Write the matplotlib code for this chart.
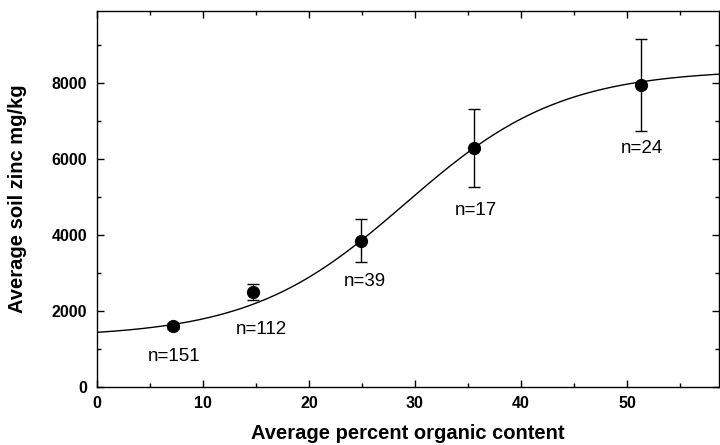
import numpy as np
import matplotlib
matplotlib.use("Agg")
import matplotlib.pyplot as plt
from matplotlib.ticker import MultipleLocator

plt.rcParams['font.family'] = ['Liberation Sans', 'DejaVu Sans']

# mean organic content, mean zinc, error and sample counts
organic = [7.2, 14.7, 24.9, 35.6, 51.3]
zinc = [1600, 2500, 3840, 6290, 7940]
zinc_err = [80, 205, 565, 1030, 1220]
counts = ["n=151", "n=112", "n=39", "n=17", "n=24"]
label_x = [7.3, 15.5, 25.3, 35.7, 51.4]
label_y = [800, 1500, 2760, 4640, 6260]

# sigmoid fit
fit_low = 1300
fit_high = 8350
fit_mid = 29.1
fit_width = 7.33

x_max = 58.7
y_max = 9890


def sigmoid(x, lo, hi, x0, s):
    return lo + (hi - lo) / (1 + np.exp(-(x - x0) / s))


fig = plt.figure(figsize=(7.2, 4.45), dpi=100)
ax = fig.add_axes([0.1343, 0.131, 0.865, 0.8443])

xs = np.linspace(0, x_max, 300)
ax.plot(xs, sigmoid(xs, fit_low, fit_high, fit_mid, fit_width), 'k-', lw=1.0)
ax.errorbar(organic, zinc, yerr=zinc_err, fmt='o', color='k', ms=8.5,
            elinewidth=1.0, capsize=4.5, capthick=1.0)

for xi, yi, t in zip(label_x, label_y, counts):
    ax.text(xi, yi, t, ha='center', va='center', fontsize=13.5)

ax.set_xlim(0, x_max)
ax.set_ylim(0, y_max)
ax.xaxis.set_minor_locator(MultipleLocator(5))
ax.yaxis.set_minor_locator(MultipleLocator(1000))
ax.set_xticks([0, 10, 20, 30, 40, 50])
ax.set_yticks([0, 2000, 4000, 6000, 8000])

ax.tick_params(which='both', direction='in', top=True, right=True,
               labelsize=11.5, pad=7, width=1)
ax.tick_params(which='major', length=5)
ax.tick_params(which='minor', length=3)
for lab in ax.get_xticklabels() + ax.get_yticklabels():
    lab.set_fontweight('bold')
for sp in ax.spines.values():
    sp.set_linewidth(1.0)

ax.set_xlabel("Average percent organic content", fontsize=14.5, fontweight='bold')
ax.set_ylabel("Average soil zinc mg/kg", fontsize=14.5, fontweight='bold')
ax.xaxis.set_label_coords(0.5, -0.1)
ax.yaxis.set_label_coords(-0.112, 0.5)

fig.savefig("out.png", dpi=100)
